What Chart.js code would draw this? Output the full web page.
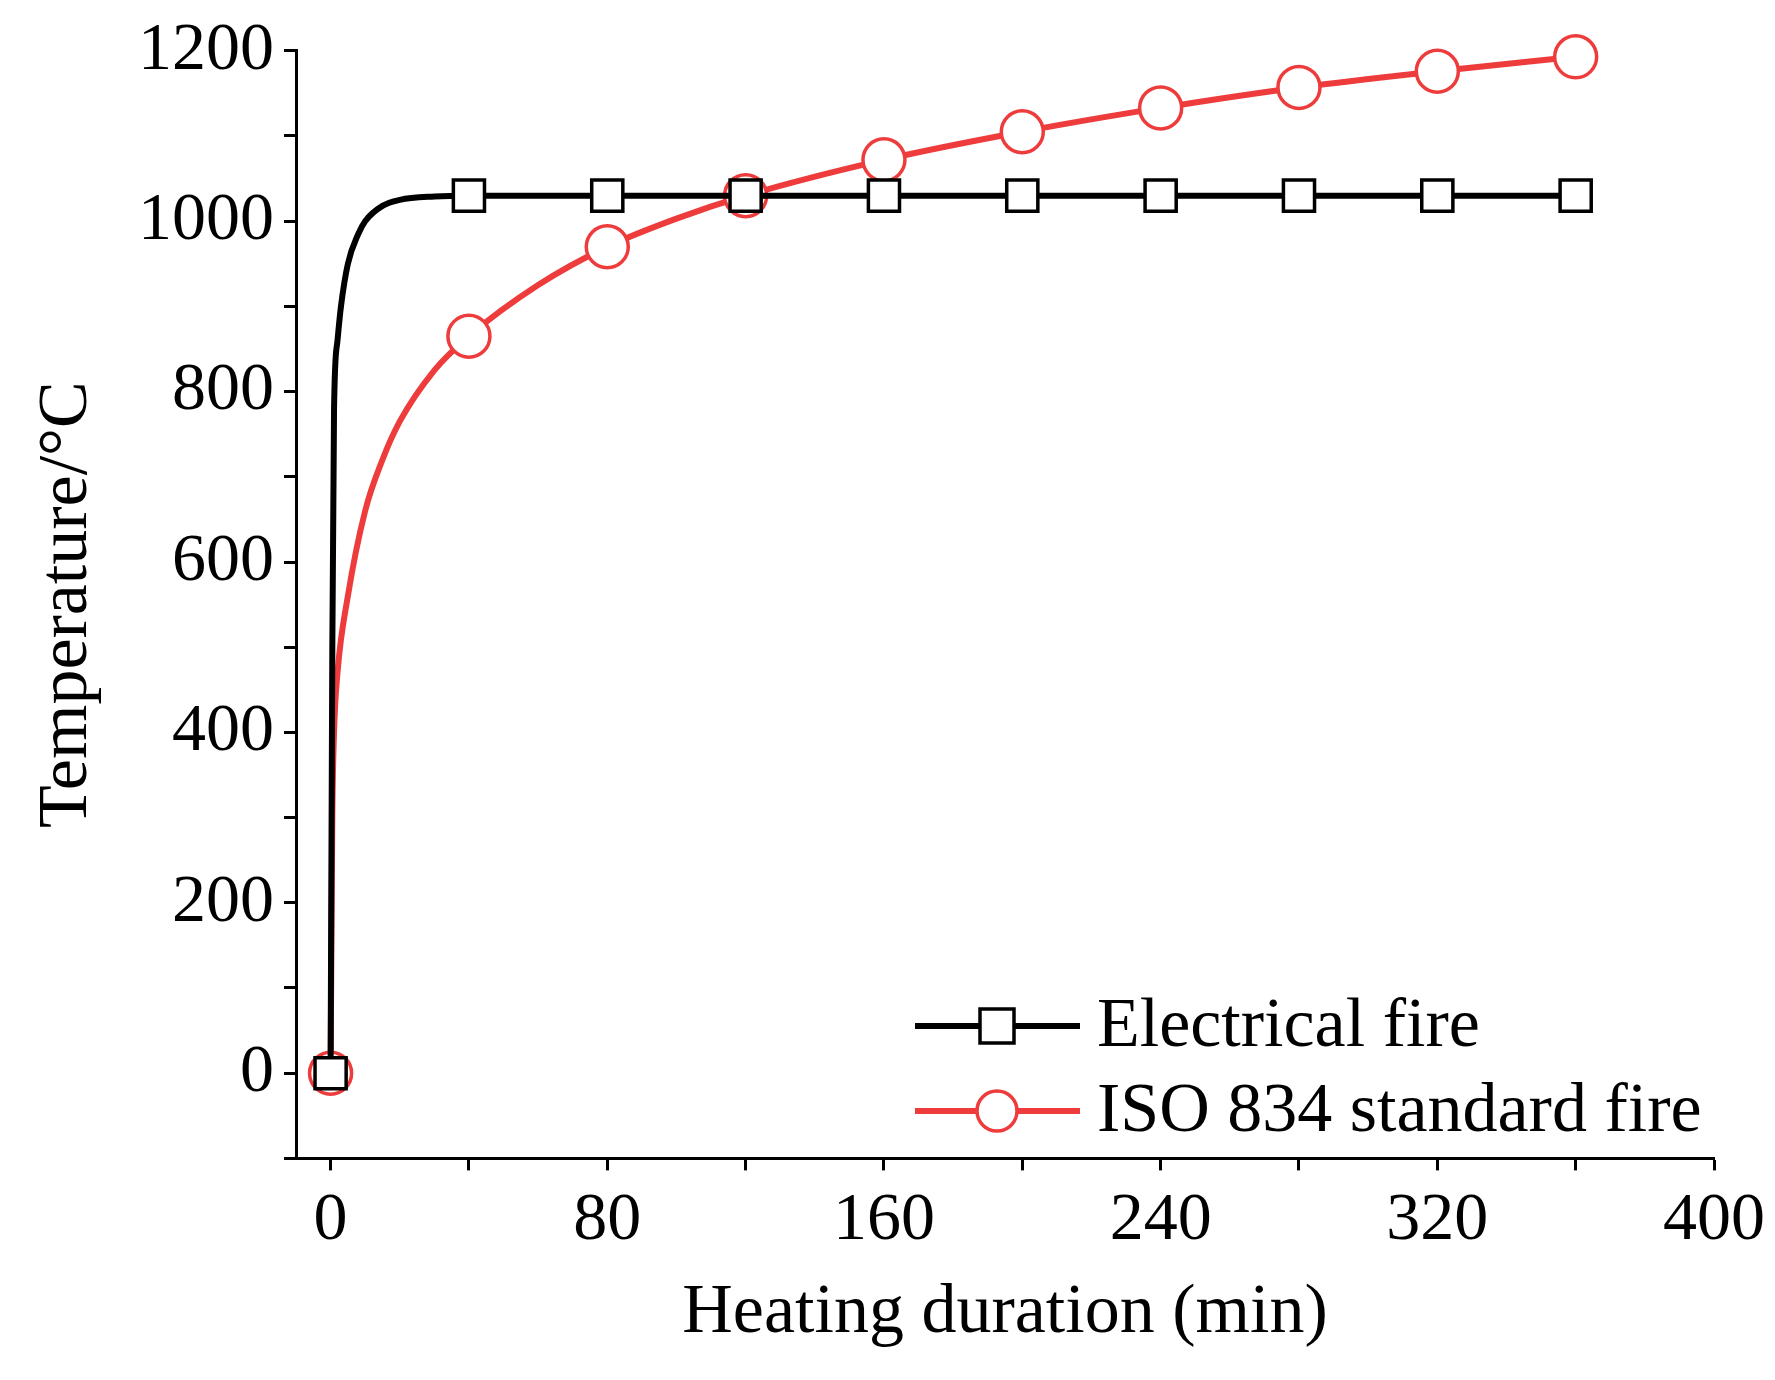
<!DOCTYPE html>
<html><head><meta charset="utf-8">
<script src="https://cdn.jsdelivr.net/npm/chart.js@4"></script>
<style>body{margin:0;background:#fff}#wrap{width:1775px;height:1380px}</style>
</head><body><div id="wrap"><canvas id="c"></canvas></div>
<script>
// values
const elecTime = [0, 0.5, 1, 2, 3, 5, 8, 10, 15, 20, 30, 40, 80, 120, 160, 200, 240, 280, 320, 360];
const elecTemp = [0, 500, 780, 860, 900, 950, 985, 1000, 1018, 1025, 1029, 1030, 1030, 1030, 1030, 1030, 1030, 1030, 1030, 1030];
const isoTime = [0, 0.5, 1, 2, 5, 10, 15, 20, 30, 40, 60, 80, 100, 120, 160, 200, 240, 280, 320, 360];
const isoTemp = [0, 300, 400, 470, 560, 660, 720, 765, 825, 865, 925, 970, 1003, 1030, 1072, 1105, 1133, 1157, 1176, 1193];
const markerTimes = [0, 40, 80, 120, 160, 200, 240, 280, 320, 360];
const seriesNames = ["Electrical fire", "ISO 834 standard fire"];

const FONT = "'Liberation Serif', 'Times New Roman', serif";
const toXY = (t, v) => t.map((x, i) => ({x, y: v[i]}));
const mark = r => ctx => markerTimes.includes(ctx.raw && ctx.raw.x) ? r : 0;

const legendPlugin = {
  id: "inLegend",
  afterDraw(chart) {
    const c = chart.ctx;
    const items = [
      {color: "#000", shape: "sq", y: 1026},
      {color: "#ee3b3b", shape: "ci", y: 1111}
    ];
    c.save();
    c.font = "70px " + FONT;
    c.textBaseline = "middle";
    items.forEach((it, i) => {
      c.strokeStyle = it.color; c.lineWidth = 6;
      c.beginPath(); c.moveTo(915, it.y); c.lineTo(1080, it.y); c.stroke();
      c.fillStyle = "#fff"; c.lineWidth = 3.5;
      c.beginPath();
      if (it.shape === "sq") c.rect(980, it.y - 17, 34, 34);
      else c.arc(997, it.y, 20, 0, Math.PI * 2);
      c.fill(); c.stroke();
      c.fillStyle = "#000";
      c.fillText(seriesNames[i], 1097, it.y + 2);
    });
    c.restore();
  }
};

new Chart(document.getElementById("c"), {
  type: "line",
  data: {
    datasets: [
      {label: seriesNames[0], data: toXY(elecTime, elecTemp), borderColor: "#000", borderWidth: 6,
       pointStyle: "rect", pointRadius: mark(22), pointBorderWidth: 3.5, pointBackgroundColor: "#fff",
       pointBorderColor: "#000", cubicInterpolationMode: "monotone", clip: false},
      {label: seriesNames[1], data: toXY(isoTime, isoTemp), borderColor: "#ee3b3b", borderWidth: 6,
       pointStyle: "circle", pointRadius: mark(21), pointBorderWidth: 3.5, pointBackgroundColor: "#fff",
       pointBorderColor: "#ee3b3b", cubicInterpolationMode: "monotone", clip: false}
    ]
  },
  options: {
    responsive: true, maintainAspectRatio: false, animation: false,
    layout: {padding: {top: 48, right: 60, left: 22, bottom: 20}},
    plugins: {legend: {display: false}, tooltip: {enabled: false}},
    scales: {
      x: {type: "linear", min: -10, max: 400,
        afterBuildTicks: a => { a.ticks = [0,40,80,120,160,200,240,280,320,360,400].map(v => ({value: v})); },
        ticks: {color: "#000", font: {family: FONT, size: 68}, padding: 10,
          callback: v => v % 80 === 0 ? v : ""},
        grid: {drawOnChartArea: false, color: "#000", tickLength: 12, tickWidth: 3},
        border: {color: "#000", width: 3},
        title: {display: true, text: "Heating duration (min)", color: "#000", font: {family: FONT, size: 70}, padding: {top: 0}}
      },
      y: {min: -100, max: 1200,
        afterBuildTicks: a => { a.ticks = [-100,0,100,200,300,400,500,600,700,800,900,1000,1100,1200].map(v => ({value: v})); },
        ticks: {color: "#000", font: {family: FONT, size: 68}, padding: 10,
          callback: v => v >= 0 && v % 200 === 0 ? v : ""},
        grid: {drawOnChartArea: false, color: "#000", tickLength: 12, tickWidth: 3},
        border: {color: "#000", width: 3},
        title: {display: true, text: "Temperature/°C", color: "#000", font: {family: FONT, size: 70}, padding: {bottom: 18}}
      }
    }
  },
  plugins: [legendPlugin]
});
</script></body></html>
